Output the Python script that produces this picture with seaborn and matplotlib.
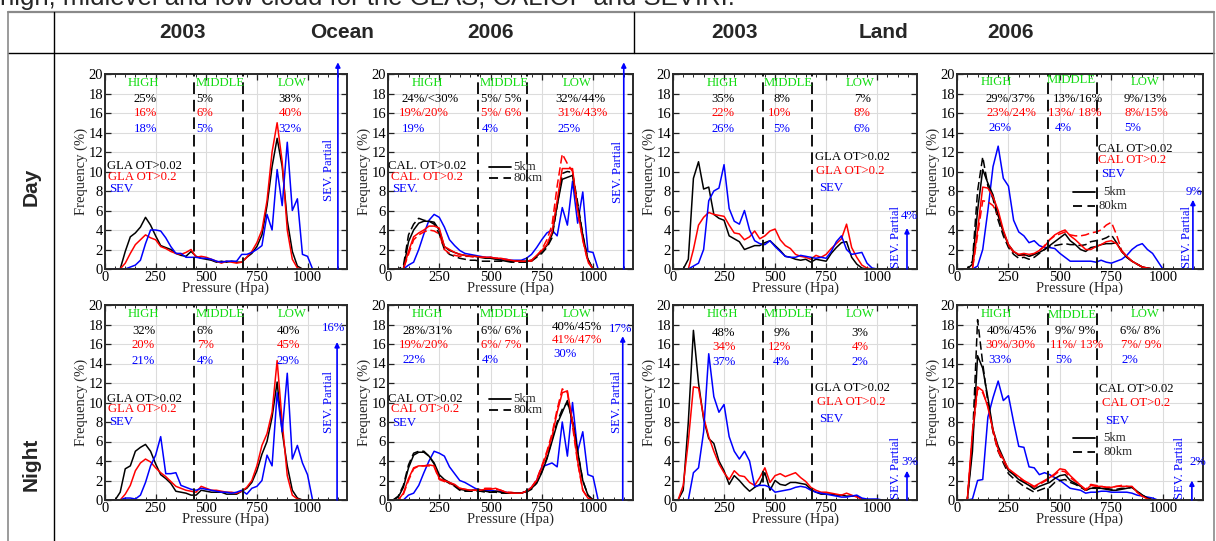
import matplotlib
matplotlib.use("Agg")
import matplotlib.pyplot as plt
from matplotlib.lines import Line2D
import seaborn as sns

# ---------------- data ----------------
PRESSURE = [25, 50, 75, 100, 125, 150, 175, 200, 225, 250, 275,
            300, 325, 350, 375, 400, 425, 450, 475, 500, 525,
            550, 575, 600, 625, 650, 675, 700, 725, 750, 775,
            800, 825, 850, 875, 900, 925, 950, 975, 1000, 1025]

# Ocean 2003 day (GLAS)
OC03_DAY_GLA002 = [0, 0, 0, 1.8, 3.3, 3.7, 4.3, 5.3, 4.5, 3.4, 2.4,
                   2.2, 2.0, 1.6, 1.4, 1.3, 1.8, 1.3, 1.1, 1.0, 0.9,
                   0.7, 0.8, 0.7, 0.8, 0.7, 0.7, 1.2, 1.6, 2.3, 3.5,
                   6.5, 10.5, 13.4, 10.5, 5.0, 1.8, 0.3, 0, 0, 0]
OC03_DAY_GLA02 = [0, 0, 0, 0.6, 1.6, 2.5, 3.0, 3.5, 3.2, 3.0, 2.3,
                  2.1, 1.8, 1.6, 1.5, 1.7, 2.0, 1.2, 1.3, 1.2, 1.0,
                  0.8, 0.6, 0.8, 0.7, 0.6, 0.7, 1.2, 1.8, 2.7, 4.0,
                  7.0, 12.0, 15.0, 11.0, 4.0, 1.0, 0.1, 0, 0, 0]
OC03_DAY_SEV = [0, 0, 0, 0, 0.2, 0.4, 0.9, 2.6, 4.0, 4.0, 3.9,
                3.2, 2.3, 1.6, 1.6, 1.2, 1.2, 1.2, 1.1, 1.1, 1.0,
                0.8, 0.7, 0.8, 0.8, 0.8, 1.5, 1.5, 1.7, 2.0, 2.4,
                5.6, 4.0, 10.2, 6.5, 13.0, 6.0, 7.2, 1.5, 1.3, 0]

# Ocean 2006 day (CALIPSO 5km / 80km)
OC06_DAY_CAL002_5 = [0, 0, 0, 2.8, 4.0, 4.7, 4.9, 4.9, 4.8, 4.0, 2.3,
                     1.9, 1.7, 1.5, 1.4, 1.3, 1.3, 1.2, 1.1, 1.1, 1.0,
                     0.9, 0.8, 0.8, 0.8, 0.8, 0.8, 0.9, 1.3, 1.8, 2.4,
                     3.5, 6.5, 9.2, 9.4, 9.6, 6.5, 3.5, 1.0, 0, 0]
OC06_DAY_CAL002_80 = [0, 0, 0.3, 3.5, 4.6, 5.2, 5.0, 4.9, 4.6, 3.6, 2.0,
                      1.5, 1.3, 1.1, 1.0, 0.9, 0.9, 0.8, 0.8, 0.8, 0.8,
                      0.8, 0.8, 0.7, 0.7, 0.7, 0.7, 0.8, 1.2, 1.6, 2.2,
                      3.2, 6.5, 9.8, 10.0, 9.9, 6.8, 3.5, 1.0, 0, 0]
OC06_DAY_CAL02_5 = [0, 0, 0, 1.8, 3.3, 3.7, 4.0, 4.4, 4.4, 4.2, 2.3,
                    2.0, 1.7, 1.5, 1.4, 1.3, 1.3, 1.2, 1.2, 1.2, 1.1,
                    1.1, 1.0, 0.9, 0.8, 0.8, 0.8, 0.9, 1.4, 1.9, 2.5,
                    3.8, 7.0, 10.3, 10.3, 10.3, 6.0, 3.0, 0.8, 0, 0]
OC06_DAY_CAL02_80 = [0, 0, 0, 1.5, 3.0, 3.5, 3.8, 4.0, 3.9, 3.6, 2.0,
                     1.6, 1.4, 1.3, 1.3, 1.3, 1.2, 1.2, 1.2, 1.2, 1.1,
                     1.1, 0.9, 0.8, 0.8, 0.8, 0.8, 0.8, 1.3, 2.0, 3.0,
                     4.5, 8.5, 11.8, 10.8, 10.0, 6.0, 3.0, 0.7, 0, 0]
OC06_DAY_SEV = [0, 0, 0, 0.4, 0.7, 2.0, 3.6, 5.0, 5.6, 5.3, 4.3,
                3.0, 2.4, 1.9, 1.6, 1.5, 1.4, 1.3, 1.2, 1.2, 1.1,
                1.0, 1.0, 0.9, 0.9, 0.9, 1.1, 1.5, 2.2, 3.0, 3.7,
                4.0, 3.4, 6.3, 4.5, 9.0, 4.7, 7.9, 1.8, 1.7, 0]

# Land 2003 day (GLAS)
LD03_DAY_GLA002 = [0, 0, 1.0, 9.3, 11.0, 8.2, 8.4, 5.6, 5.2, 5.0, 3.4,
                   3.1, 2.8, 2.0, 2.2, 2.4, 2.4, 2.7, 2.9, 2.4, 1.9,
                   1.3, 1.2, 1.0, 0.9, 1.0, 0.7, 1.0, 0.9, 0.8, 1.6,
                   2.2, 2.7, 2.8, 1.2, 0.5, 0.1, 0, 0, 0, 0]
LD03_DAY_GLA02 = [0, 0, 0, 2.0, 4.5, 5.3, 5.8, 5.6, 5.5, 5.4, 4.5,
                  3.7, 3.6, 3.0, 3.3, 3.9, 3.1, 3.4, 3.9, 4.1, 3.0,
                  2.4, 2.1, 1.5, 1.3, 1.2, 1.0, 1.4, 1.2, 1.5, 2.1,
                  2.6, 3.1, 4.6, 2.2, 1.2, 0.4, 0.1, 0, 0, 0]
LD03_DAY_SEV = [0, 0, 0, 0.3, 0.6, 2.0, 7.0, 8.0, 8.3, 10.7, 6.2,
                4.9, 4.6, 6.0, 4.0, 2.9, 2.6, 2.5, 2.9, 2.3, 1.8,
                1.3, 1.2, 1.2, 1.4, 1.3, 1.2, 1.1, 1.2, 1.1, 1.8,
                2.8, 3.4, 2.0, 1.5, 1.6, 1.7, 0.6, 0.1, 0, 0]

# Land 2006 day (CALIPSO)
LD06_DAY_CAL002_5 = [0, 0, 0.5, 6.0, 10.2, 8.8, 7.6, 5.5, 3.8, 2.5, 1.8,
                     1.4, 1.5, 1.3, 1.5, 1.7, 2.0, 2.4, 2.8, 3.2, 3.6,
                     2.9, 2.5, 2.0, 1.8, 2.2, 2.3, 2.5, 2.6, 2.6, 2.7,
                     1.8, 1.2, 0.8, 0.5, 0.2, 0.1, 0, 0, 0, 0]
LD06_DAY_CAL002_80 = [0, 0, 0.8, 8.0, 11.5, 8.5, 7.2, 5.0, 3.4, 2.2, 1.5,
                      1.1, 1.2, 1.0, 1.2, 1.6, 2.0, 2.3, 2.4, 2.5, 2.6,
                      2.5, 2.5, 2.4, 2.5, 2.8, 2.9, 3.0, 3.2, 3.5, 2.7,
                      1.8, 1.2, 0.8, 0.5, 0.2, 0.1, 0, 0, 0, 0]
LD06_DAY_CAL02_5 = [0, 0, 0, 4.0, 8.4, 8.3, 7.4, 6.0, 4.0, 2.5, 1.8,
                    1.5, 1.6, 1.5, 1.6, 1.9, 2.3, 3.0, 3.5, 3.8, 4.0,
                    3.4, 3.0, 2.5, 2.0, 2.0, 2.3, 2.5, 2.8, 2.9, 2.6,
                    1.8, 1.3, 0.8, 0.5, 0.2, 0.1, 0, 0, 0, 0]
LD06_DAY_CAL02_80 = [0, 0, 0, 3.5, 7.0, 6.9, 6.5, 5.5, 3.8, 2.4, 1.7,
                     1.4, 1.4, 1.3, 1.5, 1.9, 2.4, 3.0, 3.4, 3.6, 3.8,
                     3.5, 3.4, 3.4, 3.5, 3.7, 3.8, 4.0, 4.5, 4.8, 3.5,
                     1.9, 1.3, 0.8, 0.5, 0.2, 0.1, 0, 0, 0, 0]
LD06_DAY_SEV = [0, 0, 0, 0.3, 2.0, 6.0, 10.5, 12.6, 9.3, 8.5, 5.0,
                3.8, 3.4, 2.7, 2.9, 2.4, 2.2, 2.2, 2.1, 1.6, 1.2,
                0.8, 0.8, 0.8, 0.8, 0.8, 0.7, 0.9, 0.7, 0.6, 0.8,
                1.0, 1.4, 2.0, 2.4, 2.6, 2.0, 1.6, 0.8, 0, 0]

# Ocean 2003 night (GLAS)
OC03_NGT_GLA002 = [0, 0, 0.8, 3.2, 3.5, 5.0, 5.4, 5.7, 5.0, 3.7, 2.6,
                   2.2, 1.7, 0.9, 0.8, 0.7, 0.5, 0.5, 1.0, 0.9, 0.8,
                   0.8, 0.8, 0.6, 0.6, 0.6, 0.9, 1.2, 1.8, 3.0, 4.7,
                   6.0, 8.5, 12.1, 7.0, 3.5, 1.0, 0.2, 0, 0, 0]
OC03_NGT_GLA02 = [0, 0, 0, 0.6, 1.5, 3.0, 3.8, 4.2, 3.9, 3.3, 2.8,
                  2.4, 1.9, 1.4, 1.2, 1.0, 0.9, 0.8, 1.4, 1.2, 1.0,
                  1.0, 0.9, 0.8, 0.8, 0.7, 0.9, 1.3, 2.0, 3.5, 5.6,
                  6.8, 9.0, 14.3, 8.0, 2.5, 0.5, 0.1, 0, 0, 0]
OC03_NGT_SEV = [0, 0, 0, 0.2, 0.2, 0.1, 0.5, 1.8, 3.5, 4.6, 6.5,
                2.7, 2.7, 2.8, 1.5, 1.3, 1.1, 1.0, 1.2, 1.1, 1.0,
                0.9, 0.8, 0.8, 0.7, 0.8, 1.0, 0.6, 1.2, 1.4, 2.0,
                4.6, 3.5, 11.0, 7.0, 13.0, 4.2, 5.6, 3.8, 2.6, 0]

# Ocean 2006 night (CALIPSO)
OC06_NGT_CAL002_5 = [0, 0.3, 1.3, 3.3, 4.6, 4.9, 4.9, 4.5, 3.8, 2.6, 2.1,
                     1.8, 1.5, 1.1, 1.0, 1.0, 1.0, 1.0, 0.9, 0.8, 0.9,
                     0.8, 0.7, 0.7, 0.7, 0.7, 0.9, 1.2, 1.7, 2.8, 4.2,
                     6.0, 7.8, 9.0, 10.2, 8.0, 5.0, 2.0, 0.5, 0, 0]
OC06_NGT_CAL002_80 = [0, 0.4, 1.5, 3.6, 4.8, 5.0, 5.0, 4.5, 3.7, 2.4, 2.0,
                      1.7, 1.4, 1.0, 0.9, 0.9, 0.9, 0.9, 0.8, 0.8, 0.8,
                      0.7, 0.7, 0.7, 0.7, 0.7, 0.8, 1.1, 1.8, 2.9, 4.3,
                      6.2, 8.0, 9.3, 10.0, 8.2, 5.0, 2.0, 0.5, 0, 0]
OC06_NGT_CAL02_5 = [0, 0, 0.7, 2.2, 3.3, 3.5, 3.5, 3.6, 3.5, 2.2, 2.0,
                    1.8, 1.6, 1.2, 1.1, 1.0, 1.0, 1.0, 1.1, 1.1, 1.2,
                    1.0, 0.8, 0.7, 0.7, 0.7, 0.9, 1.3, 2.0, 3.3, 4.8,
                    6.5, 9.0, 11.0, 11.2, 8.0, 4.0, 1.0, 0.2, 0, 0]
OC06_NGT_CAL02_80 = [0, 0, 0.6, 2.0, 3.2, 3.5, 3.5, 3.5, 3.4, 2.1, 1.9,
                     1.7, 1.5, 1.2, 1.1, 1.0, 1.0, 1.1, 1.2, 1.2, 1.1,
                     1.0, 0.8, 0.8, 0.7, 0.7, 0.9, 1.3, 2.1, 3.5, 5.0,
                     6.8, 9.3, 11.4, 11.0, 7.6, 3.8, 1.0, 0.2, 0, 0]
OC06_NGT_SEV = [0, 0, 0, 0.5, 0.7, 1.5, 2.8, 4.0, 5.0, 4.8, 4.5,
                3.4, 2.7, 2.0, 1.8, 1.5, 1.2, 1.0, 1.0, 1.0, 0.9,
                0.9, 0.8, 0.7, 0.7, 0.7, 0.9, 1.3, 2.0, 3.4, 3.6,
                3.8, 3.4, 8.0, 4.5, 10.0, 5.0, 7.0, 2.6, 2.4, 0]

# Land 2003 night (GLAS)
LD03_NGT_GLA002 = [0, 1.0, 8.0, 17.4, 12.0, 8.3, 6.3, 5.8, 4.0, 3.0, 1.6,
                   2.5, 2.0, 1.4, 0.9, 1.3, 1.6, 2.8, 1.0, 2.0, 1.6,
                   1.5, 1.8, 1.8, 1.7, 1.6, 1.1, 0.8, 0.6, 0.6, 0.6,
                   0.5, 0.5, 0.4, 0.4, 0.4, 0.1, 0, 0, 0, 0]
LD03_NGT_GLA02 = [0, 1.5, 6.0, 11.6, 11.5, 8.5, 6.5, 5.0, 3.7, 2.8, 2.1,
                  3.0, 2.5, 2.4, 1.8, 1.5, 2.3, 3.3, 1.8, 2.5, 2.7,
                  2.4, 2.6, 2.8, 2.3, 1.9, 1.3, 1.0, 0.8, 0.8, 0.7,
                  0.6, 0.5, 0.7, 0.5, 0.3, 0.1, 0, 0, 0, 0]
LD03_NGT_SEV = [0, 0, 0, 2.8, 3.3, 7.0, 15.0, 10.6, 9.0, 9.8, 6.5,
                5.0, 4.2, 5.0, 4.0, 1.4, 1.5, 1.5, 1.3, 0.8, 0.9,
                1.0, 1.1, 1.3, 1.4, 1.3, 1.0, 0.8, 0.7, 0.6, 0.5,
                0.4, 0.3, 0.3, 0.4, 0.5, 0.2, 0.1, 0.1, 0.1, 0]

# Land 2006 night (CALIPSO)
LD06_NGT_CAL002_5 = [0, 0, 5.0, 14.8, 13.5, 10.5, 7.2, 5.5, 4.3, 3.0, 2.6,
                     2.1, 1.8, 1.5, 1.1, 1.4, 1.6, 1.8, 2.2, 2.5, 2.6,
                     2.0, 1.7, 1.4, 1.0, 1.2, 1.2, 1.2, 1.1, 1.0, 1.0,
                     1.1, 1.2, 1.3, 0.9, 0.5, 0.2, 0, 0, 0, 0]
LD06_NGT_CAL002_80 = [0, 0, 6.0, 18.5, 14.0, 10.0, 7.0, 5.0, 3.8, 2.7, 2.2,
                      1.8, 1.4, 1.1, 0.8, 1.0, 1.2, 1.3, 1.8, 2.0, 2.1,
                      1.8, 1.6, 1.3, 1.0, 1.2, 1.3, 1.3, 1.2, 1.1, 1.1,
                      1.2, 1.2, 1.3, 0.9, 0.5, 0.2, 0, 0, 0, 0]
LD06_NGT_CAL02_5 = [0, 0, 7.0, 11.6, 11.2, 9.5, 7.2, 5.2, 4.2, 3.2, 2.8,
                    2.4, 2.0, 1.7, 1.4, 1.7, 2.0, 2.3, 2.7, 3.2, 3.1,
                    2.5, 2.0, 1.5, 1.0, 1.5, 1.4, 1.4, 1.3, 1.3, 1.4,
                    1.4, 1.4, 1.4, 0.8, 0.4, 0.1, 0, 0, 0, 0]
LD06_NGT_CAL02_80 = [0, 0, 6.5, 11.4, 11.0, 9.7, 7.0, 5.0, 4.0, 3.0, 2.7,
                     2.3, 1.9, 1.6, 1.3, 1.6, 1.9, 2.2, 2.6, 3.0, 2.9,
                     2.3, 1.9, 1.5, 1.1, 1.6, 1.5, 1.4, 1.3, 1.3, 1.4,
                     1.5, 1.4, 1.3, 0.8, 0.4, 0.1, 0, 0, 0, 0]
LD06_NGT_SEV = [0, 0, 0.1, 2.0, 2.1, 8.5, 10.5, 12.2, 10.2, 10.7, 8.0,
                5.5, 5.4, 3.4, 3.3, 2.6, 2.8, 2.6, 2.3, 2.0, 1.6,
                1.2, 1.1, 1.0, 0.7, 0.8, 0.8, 0.9, 0.9, 0.8, 0.8,
                0.8, 0.8, 0.7, 0.5, 0.4, 0.3, 0.2, 0, 0, 0]

XTICKS = [0, 250, 500, 750, 1000]
YTICKS = [0, 2, 4, 6, 8, 10, 12, 14, 16, 18, 20]
LAYER_BOUNDS = [440, 680]

COL_HEADERS = ["2003", "Ocean", "2006", "2003", "Land", "2006"]
ROW_HEADERS = ["Day", "Night"]

# SEV partial fraction (arrow heights) and labels
PARTIAL_TOP = [21.2, 21.2, 4.2, 7.1, 16.2, 16.8, 3.0, 2.0]
PARTIAL_TXT = [None, None, "4%", "9%", "16%", "17%", "3%", "2%"]

PCT_TEXT = [
    [["25%", "16%", "18%"], ["5%", "6%", "5%"], ["38%", "40%", "32%"]],
    [["24%/<30%", "19%/20%", "19%"], ["5%/ 5%", "5%/ 6%", "4%"], ["32%/44%", "31%/43%", "25%"]],
    [["35%", "22%", "26%"], ["8%", "10%", "5%"], ["7%", "8%", "6%"]],
    [["29%/37%", "23%/24%", "26%"], ["13%/16%", "13%/ 18%", "4%"], ["9%/13%", "8%/15%", "5%"]],
    [["32%", "20%", "21%"], ["6%", "7%", "4%"], ["40%", "45%", "29%"]],
    [["28%/31%", "19%/20%", "22%"], ["6%/ 6%", "6%/ 7%", "4%"], ["40%/45%", "41%/47%", "30%"]],
    [["48%", "34%", "37%"], ["9%", "12%", "4%"], ["3%", "4%", "2%"]],
    [["40%/45%", "30%/30%", "33%"], ["9%/ 9%", "11%/ 13%", "5%"], ["6%/ 8%", "7%/ 9%", "2%"]],
]
LEGEND_NAMES = [
    ["GLA OT>0.02", "GLA OT>0.2", "SEV"],
    ["CAL. OT>0.02", "CAL. OT>0.2", "SEV."],
    ["GLA OT>0.02", "GLA OT>0.2", "SEV"],
    ["CAL OT>0.02", "CAL OT>0.2", "SEV"],
    ["GLA OT>0.02", "GLA OT>0.2", "SEV"],
    ["CAL OT>0.02", "CAL OT>0.2", "SEV"],
    ["GLA OT>0.02", "GLA OT>0.2", "SEV"],
    ["CAL OT>0.02", "CAL OT>0.2", "SEV"],
]

BLACK, RED, BLUE = "black", "#ff0000", "#0000ff"
GREEN = "#14dc14"
SERIES_COLORS = [BLACK, RED, BLUE]

CURVES = [
    [(OC03_DAY_GLA002, BLACK, "-"), (OC03_DAY_GLA02, RED, "-"), (OC03_DAY_SEV, BLUE, "-")],
    [(OC06_DAY_SEV, BLUE, "-"), (OC06_DAY_CAL002_80, BLACK, "--"), (OC06_DAY_CAL02_80, RED, "--"),
     (OC06_DAY_CAL002_5, BLACK, "-"), (OC06_DAY_CAL02_5, RED, "-")],
    [(LD03_DAY_GLA002, BLACK, "-"), (LD03_DAY_GLA02, RED, "-"), (LD03_DAY_SEV, BLUE, "-")],
    [(LD06_DAY_SEV, BLUE, "-"), (LD06_DAY_CAL002_80, BLACK, "--"), (LD06_DAY_CAL02_80, RED, "--"),
     (LD06_DAY_CAL002_5, BLACK, "-"), (LD06_DAY_CAL02_5, RED, "-")],
    [(OC03_NGT_GLA002, BLACK, "-"), (OC03_NGT_GLA02, RED, "-"), (OC03_NGT_SEV, BLUE, "-")],
    [(OC06_NGT_SEV, BLUE, "-"), (OC06_NGT_CAL002_80, BLACK, "--"), (OC06_NGT_CAL02_80, RED, "--"),
     (OC06_NGT_CAL002_5, BLACK, "-"), (OC06_NGT_CAL02_5, RED, "-")],
    [(LD03_NGT_GLA002, BLACK, "-"), (LD03_NGT_GLA02, RED, "-"), (LD03_NGT_SEV, BLUE, "-")],
    [(LD06_NGT_SEV, BLUE, "-"), (LD06_NGT_CAL002_80, BLACK, "--"), (LD06_NGT_CAL02_80, RED, "--"),
     (LD06_NGT_CAL002_5, BLACK, "-"), (LD06_NGT_CAL02_5, RED, "-")],
]

# ---------------- layout (pixels) ----------------
W, H = 1216, 541
AX_BOX = [(105, 74, 347, 269), (388, 74, 633, 269), (673, 74, 917, 269), (957, 74, 1203, 269),
          (105, 305, 347, 500), (388, 305, 633, 500), (673, 305, 917, 500), (957, 305, 1203, 500)]

LAYOUT = [
    dict(title_x=[190, 568, 925], title_y=[19.1, 19.1, 19.1],
         pct_x=[[200] * 3, [452] * 3, [914] * 3], pct_ha=["center", "left", "center"],
         pct_y=[[17.4, 16.0, 14.4]] * 3,
         leg=[(8, 10.6), (16, 9.4), (21, 8.2)], km=None,
         px=1150, ptxt=None, lab=(1108, 10.2, "center")),
    dict(title_x=[191, 566, 923], title_y=[19.1, 19.1, 19.1],
         pct_x=[[207, 174, 125], [452, 456, 456], [939, 947, 882]], pct_ha=["center", "left", "center"],
         pct_y=[[17.4, 16.0, 14.4]] * 3,
         leg=[(2, 10.6), (13, 9.4), (18, 8.2)], km=(495, 600, 10.5, 9.3, 612, 612),
         px=1150, ptxt=None, lab=(1120, 9.9, "center")),
    dict(title_x=[241, 563, 917], title_y=[19.1, 19.1, 19.1],
         pct_x=[[245] * 3, [535, 522, 530], [926] * 3], pct_ha=["center", "center", "center"],
         pct_y=[[17.4, 16.0, 14.4]] * 3,
         leg=[(694, 11.5), (702, 10.1), (718, 8.3)], km=None,
         px=1146, ptxt=(1158, 5.4), lab=(1094, 0.1, "bottom")),
    dict(title_x=[190, 557, 914], title_y=[19.2, 19.4, 19.2],
         pct_x=[[261, 266, 209], [585, 574, 517], [914, 922, 852]], pct_ha=["center", "center", "center"],
         pct_y=[[17.4, 16.0, 14.5]] * 3,
         leg=[(687, 12.3), (687, 11.2), (700, 9.7)], km=(562, 671, 7.85, 6.5, 711, 687),
         px=1146, ptxt=(1152, 7.9), lab=(1117, 0.1, "bottom")),
    dict(title_x=[188, 568, 925], title_y=[19.1, 19.1, 19.1],
         pct_x=[[190] * 3, [452, 457, 455], [906] * 3], pct_ha=["center", "left", "center"],
         pct_y=[[17.3, 15.9, 14.3]] * 3,
         leg=[(8, 10.4), (16, 9.3), (21, 8.0)], km=None,
         px=1146, ptxt=(1127, 17.6), lab=(1105, 10.1, "center")),
    dict(title_x=[191, 566, 923], title_y=[19.1, 19.1, 19.1],
         pct_x=[[191, 174, 125], [452, 456, 456], [923, 923, 865]], pct_ha=["center", "left", "center"],
         pct_y=[[17.3, 15.9, 14.4], [17.3, 15.9, 14.4], [17.7, 16.4, 15.0]],
         leg=[(2, 10.4), (13, 9.3), (18, 7.9)], km=(495, 600, 10.4, 9.2, 612, 612),
         px=1145, ptxt=(1136, 17.5), lab=(1115, 10.1, "center")),
    dict(title_x=[241, 563, 917], title_y=[19.1, 19.1, 19.1],
         pct_x=[[248] * 3, [535, 519, 530], [917] * 3], pct_ha=["center", "center", "center"],
         pct_y=[[17.1, 15.7, 14.2]] * 3,
         leg=[(694, 11.5), (705, 10.1), (718, 8.3)], km=None,
         px=1146, ptxt=(1159, 3.9), lab=(1094, 0.1, "bottom")),
    dict(title_x=[193, 562, 914], title_y=[19.1, 19.0, 19.1],
         pct_x=[[266, 261, 209], [574, 582, 517], [890, 893, 841]], pct_ha=["center", "center", "center"],
         pct_y=[[17.3, 15.9, 14.4]] * 3,
         leg=[(692, 11.4), (703, 10.0), (720, 8.1)], km=(562, 671, 6.4, 4.9, 711, 711),
         px=1141, ptxt=(1168, 3.9), lab=(1084, 0.1, "bottom")),
]

# ---------------- style ----------------
sns.set_theme(style="white")
plt.rcParams["font.family"] = ["Liberation Serif", "DejaVu Serif"]
SANS = ["Liberation Sans", "DejaVu Sans"]
DASH = (0, (5.5, 2.5))
TXT = 9.2

fig = plt.figure(figsize=(W / 100, H / 100), dpi=100)
fig.patch.set_facecolor("white")

for i, (l, t, r, b) in enumerate(AX_BOX):
    ax = fig.add_axes([l / W, 1 - b / H, (r - l) / W, (b - t) / H])
    spec = LAYOUT[i]

    for vals, col, ls in CURVES[i]:
        sns.lineplot(x=PRESSURE, y=vals, ax=ax, color=col, linewidth=1.1,
                     linestyle=(DASH if ls == "--" else "-"), sort=False,
                     estimator=None, legend=False)

    for xb in LAYER_BOUNDS:
        ax.axvline(xb, color="#111111", lw=1.4, linestyle=(0, (6, 3)), zorder=3)

    ax.set_xlim(0, 1195)
    ax.set_ylim(0, 20)
    ax.set_xticks(XTICKS)
    ax.set_yticks(YTICKS)
    ax.set_xticks([x for x in range(50, 1195, 50) if x % 250], minor=True)
    ax.grid(True, which="major", color="#dcdcdc", lw=0.8)
    ax.set_axisbelow(True)
    ax.tick_params(which="both", direction="in", top=True, right=True, bottom=True, left=True,
                   color="#222222", labelsize=10.5, pad=1.5, labelcolor="black")
    ax.tick_params(which="major", length=4, width=0.9)
    ax.tick_params(which="minor", length=2, width=0.7)
    for s in ax.spines.values():
        s.set_linewidth(1.4)
        s.set_color("#2a2a2a")
        s.set_visible(True)
    ax.set_xlabel("Pressure (Hpa)", fontsize=10.5, labelpad=-1.5)
    ax.set_ylabel("Frequency (%)", fontsize=10.5, labelpad=0.5)

    for name, xx, yy in zip(["HIGH", "MIDDLE", "LOW"], spec["title_x"], spec["title_y"]):
        ax.text(xx, yy, name, color=GREEN, fontsize=TXT, ha="center", va="center")
    for c in range(3):
        for k in range(3):
            ax.text(spec["pct_x"][c][k], spec["pct_y"][c][k], PCT_TEXT[i][c][k],
                    color=SERIES_COLORS[k], fontsize=TXT, ha=spec["pct_ha"][c], va="center")
    for k, (name, (lx, ly)) in enumerate(zip(LEGEND_NAMES[i], spec["leg"])):
        ax.text(lx, ly, name, color=SERIES_COLORS[k], fontsize=TXT, ha="left", va="center")
    if spec["km"] is not None:
        x0, x1, ys, yd, tx1, tx2 = spec["km"]
        ax.plot([x0, x1], [ys, ys], color="black", lw=1.3)
        ax.plot([x0, x1], [yd, yd], color="black", lw=1.3, linestyle=(0, (5, 3)))
        ax.text(tx1, ys, "5km", fontsize=TXT, ha="left", va="center")
        ax.text(tx2, yd, "80km", fontsize=TXT, ha="left", va="center")
    ax.annotate("", xy=(spec["px"], PARTIAL_TOP[i]), xytext=(spec["px"], 0),
                arrowprops=dict(arrowstyle="-|>", color=BLUE, lw=1.2, shrinkA=0, shrinkB=0,
                                mutation_scale=7),
                annotation_clip=False)
    if spec["ptxt"] is not None:
        ax.text(spec["ptxt"][0], spec["ptxt"][1], PARTIAL_TXT[i], color=BLUE, fontsize=TXT,
                ha="center", va="center")
    lx, ly, lva = spec["lab"]
    ax.text(lx, ly, "SEV. Partial", color=BLUE, fontsize=TXT, rotation=90,
            ha="center", va=lva)

# ---------------- table frame & headers ----------------
def fline(x0, y0, x1, y1, color="black", lw=1.0):
    fig.add_artist(Line2D([x0 / W, x1 / W], [1 - y0 / H, 1 - y1 / H],
                          transform=fig.transFigure, color=color, lw=lw))

fline(8, 12, 1214, 12, color="#8a8a8a", lw=1.6)
fline(8, 53, 1214, 53, color="black", lw=1.0)
fline(8, 12, 8, 541, color="#8a8a8a", lw=1.2)
fline(54, 12, 54, 541, color="black", lw=1.0)
fline(634, 12, 634, 53, color="black", lw=1.0)
fline(1214, 12, 1214, 541, color="#8a8a8a", lw=1.2)

# caption line that the reference shows cut off by the top edge
fig.text(0.0, 1 - 5.5 / H, "high, midlevel and low cloud for the GLAS, CALIOP and SEVIRI.",
         family=SANS, fontsize=18.5, ha="left", va="baseline")

for txt, xc in zip(COL_HEADERS, [183, 342, 490, 735, 884, 1010]):
    fig.text(xc / W, 1 - 32 / H, txt, family=SANS, fontsize=15, fontweight="bold",
             ha="center", va="center")
for txt, yc in zip(ROW_HEADERS, [187, 464]):
    fig.text(31 / W, 1 - yc / H, txt, family=SANS, fontsize=15, fontweight="bold",
             rotation=90, ha="center", va="center")

fig.savefig("out.png", dpi=100, facecolor="white")
